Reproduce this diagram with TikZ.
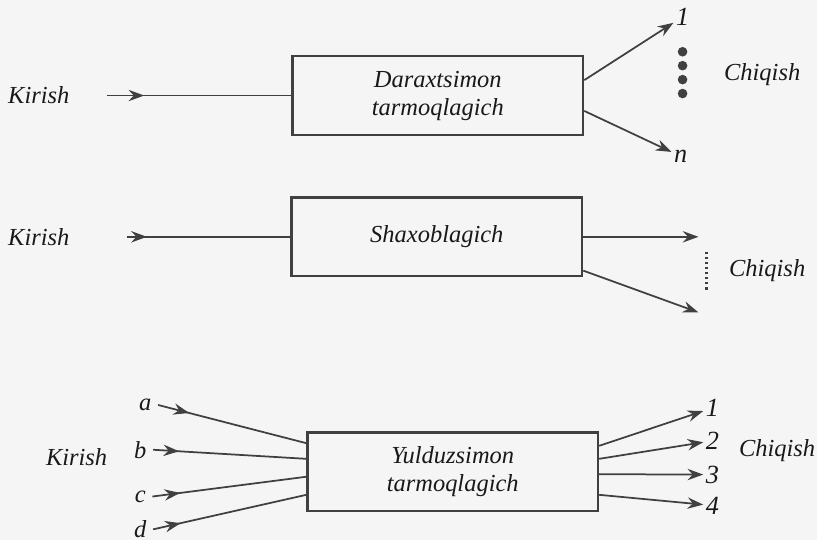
\documentclass[tikz,border=0pt]{standalone}
\usepackage{fontspec}
\setmainfont{Liberation Serif}
\usetikzlibrary{arrows.meta}
\usetikzlibrary{decorations.markings}
\tikzset{->-/.style = {decoration={markings,
    mark=at position #1 with {\arrow{Stealth[length=9pt,width=6.5pt,inset=3pt]}}},
                      postaction={decorate}}}
\tikzset{uch/.style = {-{Stealth[length=9pt,width=6.5pt,inset=3pt]}}}
\tikzset{blok/.style = {draw, line width=1.4pt, minimum width=5.84cm,
                        minimum height=1.58cm, inner sep=0, align=center}}
\tikzset{nuqta/.style = {fill, circle, inner sep=0, minimum size=5.5pt}}
\tikzset{yozuv/.style = {text=black!90, font=\itshape\fontsize{14}{16}\selectfont}}
\tikzset{raqam/.style = {text=black!90, inner sep=1pt, font=\itshape\fontsize{15}{17}\selectfont}}

\begin{document}
\begin{tikzpicture}[x=0.02cm, y=-0.02cm, color=black!75, line width=1pt]
        \fill[black!4] (0,0) rectangle (821,543);
        % daraxtsimon
        \node[yozuv] (k1) at (39,96) {Kirish};
        \coordinate (i1) at (108,96);
        \node[blok, yozuv] (d1) at (440,96) {Daraxtsimon\\tarmoqlagich};
        \node[raqam] (o1) at (686,17) {1};
        \node[raqam] (on) at (684,157) {n};
        \foreach \y in {52,66,80,94}
          \node[nuqta] at (686,\y) {};
        \node[yozuv] (ch1) at (766,75) {Chiqish};
        \draw[->-=0.2] (i1) -- (d1.west);
        \draw[uch] (d1.6) -- (o1);
        \draw[uch] (d1.-6) -- (on);
        % shaxoblagich
        \node[yozuv] (k2) at (39,238) {Kirish};
        \coordinate (i2) at (128,238);
        \node[blok, yozuv] (s2) at (439,238) {Shaxoblagich};
        \coordinate (c2a) at (702,238);
        \coordinate (c2b) at (702,314);
        \node[yozuv] (ch2) at (771,272) {Chiqish};
        \draw[->-=0.12] (i2) -- (s2.west);
        \draw[uch] (s2.east) -- (c2a);
        \draw[uch] (s2.-13) -- (c2b);
        \draw[line width=1.3pt, dash pattern=on 1.3pt off 1.6pt] (710,253) -- (710,293);
        % yulduzsimon
        \node[yozuv] (k3) at (77,459) {Kirish};
        \node[yozuv] (ka) at (146,407) {a};
        \node[yozuv] (kb) at (141,452) {b};
        \node[yozuv] (kc) at (141,499) {c};
        \node[yozuv] (kd) at (141,532) {d};
        \node[blok, yozuv] (y3) at (455,474) {Yulduzsimon\\tarmoqlagich};
        \draw[->-=0.21] (ka.east) -- (y3.169.5);
        \draw[->-=0.17] (kb.east) -- (y3.175.3);
        \draw[->-=0.18] (kc.east) -- (y3.-178);
        \draw[->-=0.18] (kd.east) -- (y3.-171.8);
        \node[raqam] (n1) at (716,410) {1};
        \node[raqam] (n2) at (716,443) {2};
        \node[raqam] (n3) at (716,477) {3};
        \node[raqam] (n4) at (716,508) {4};
        \node[yozuv] (ch3) at (781,453) {Chiqish};
        \draw[uch] (y3.10.5) -- (n1);
        \draw[uch] (y3.5.5) -- (n2);
        \draw[uch] (y3.-1.6) -- (n3);
        \draw[uch] (y3.-9) -- (n4);
\end{tikzpicture}
\end{document}
